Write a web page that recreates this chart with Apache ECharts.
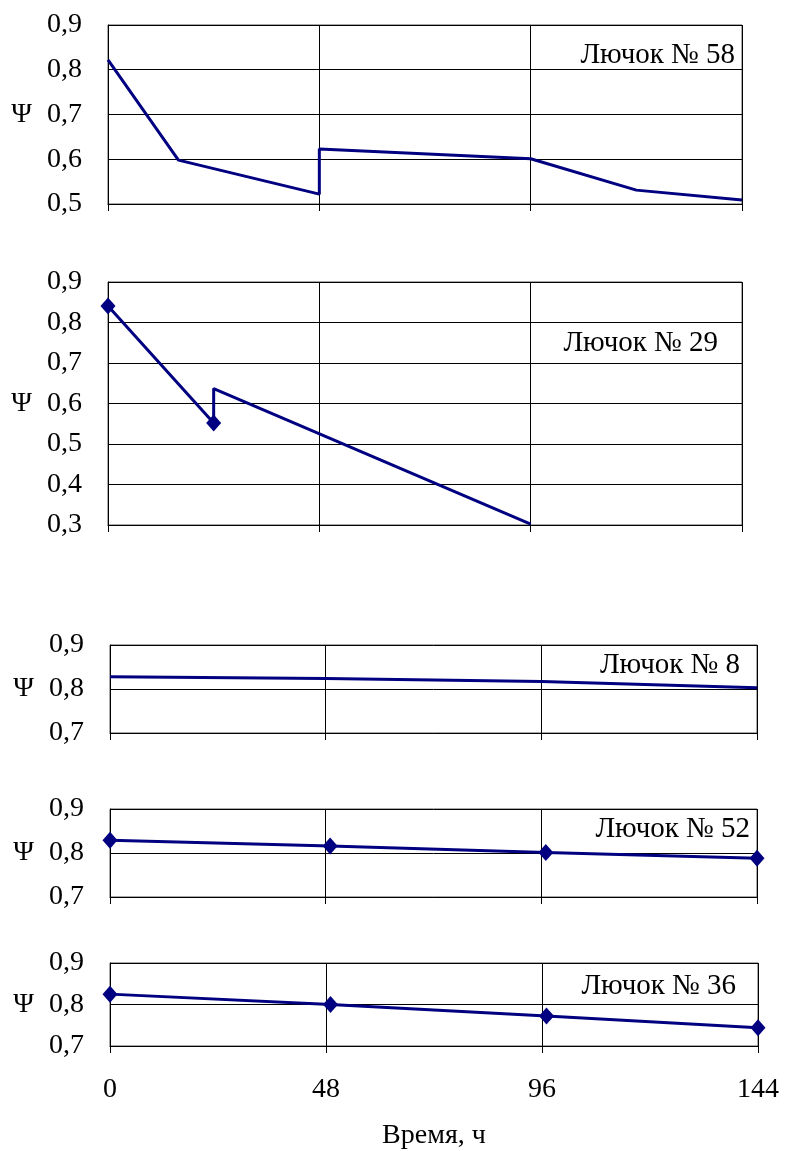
<!DOCTYPE html>
<html>
<head>
<meta charset="utf-8">
<script src="https://cdn.jsdelivr.net/npm/echarts@6/dist/echarts.min.js"></script>
<style>
html,body{margin:0;padding:0;background:#fff;}
#c{width:787px;height:1151px;}
</style>
</head>
<body>
<div id="c"></div>
<script>
// ---- data ----
const xTicks = [0, 48, 96, 144];
const hours58 = [0, 16, 48, 48, 96, 120, 144];
const psi58   = [0.822, 0.598, 0.522, 0.623, 0.601, 0.531, 0.509];
const hours29 = [0, 24, 24, 96];
const psi29   = [0.841, 0.552, 0.637, 0.302];
const marks29 = [true, true, false, false];
const hours8  = [0, 48, 96, 144];
const psi8    = [0.828, 0.824, 0.817, 0.803];
const hours52 = [0, 49, 97, 144];
const psi52   = [0.829, 0.816, 0.801, 0.788];
const hours36 = [0, 49, 97, 144];
const psi36   = [0.825, 0.800, 0.772, 0.744];
const labels  = ['Лючок № 58', 'Лючок № 29', 'Лючок № 8', 'Лючок № 52', 'Лючок № 36'];
const yMins   = [0.5, 0.3, 0.7, 0.7, 0.7];
const yMaxs   = [0.9, 0.9, 0.9, 0.9, 0.9];

// ---- layout ----
const FONT = '"Liberation Serif", "Times New Roman", serif';
const grids = [
  {left:108, top:25,  width:634, height:179},
  {left:108, top:282, width:634, height:243},
  {left:110, top:645, width:647, height:88},
  {left:110, top:809, width:647, height:88},
  {left:110, top:963, width:648, height:83}
];
const labelPos = [
  {x:735, y:55},
  {x:718, y:343},
  {x:740, y:665},
  {x:750, y:829},
  {x:736, y:986}
];
const LINE = '#000080';

const toPairs = (xs, ys) => xs.map((x, i) => [x, ys[i]]);
const fmt = v => v.toFixed(1).replace('.', ',');

const xAxes = grids.map((g, i) => ({
  type:'value', gridIndex:i, min:xTicks[0], max:xTicks[xTicks.length - 1], interval:xTicks[1] - xTicks[0],
  axisLine:{show:true, onZero:false, lineStyle:{color:'#000', width:1}},
  axisTick:{show:true, length:7, inside:false, lineStyle:{color:'#000'}},
  axisLabel:{show:i === 4, margin:30, fontFamily:FONT, fontSize:28, color:'#000'},
  splitLine:{show:true, lineStyle:{color:'#000', width:1}},
  name: i === 4 ? 'Время, ч' : '',
  nameLocation:'middle', nameGap:76,
  nameTextStyle:{fontFamily:FONT, fontSize:28, color:'#000'}
}));
const yAxes = grids.map((g, i) => ({
  type:'value', gridIndex:i, min:yMins[i], max:yMaxs[i], interval:0.1,
  axisLine:{show:true, lineStyle:{color:'#000', width:1}},
  axisTick:{show:true, inside:true, length:5, lineStyle:{color:'#000'}},
  axisLabel:{margin:26, formatter:fmt, fontFamily:FONT, fontSize:28, color:'#000'},
  splitLine:{show:true, lineStyle:{color:'#000', width:1}},
  name:'Ψ', nameLocation:'middle', nameRotate:0, nameGap:76,
  nameTextStyle:{fontFamily:FONT, fontSize:28, color:'#000'}
}));

const diamond = {symbol:'diamond', symbolSize:[15, 17]};
const series = [
  {data:toPairs(hours58, psi58), showSymbol:false},
  {data:toPairs(hours29, psi29).map((p, i) => marks29[i] ? {value:p, symbol:'diamond', symbolSize:[15,17]} : {value:p, symbol:'none'})},
  {data:toPairs(hours8, psi8), showSymbol:false},
  {data:toPairs(hours52, psi52), ...diamond},
  {data:toPairs(hours36, psi36), ...diamond}
].map((s, i) => Object.assign({
  type:'line', xAxisIndex:i, yAxisIndex:i,
  lineStyle:{color:LINE, width:3},
  itemStyle:{color:LINE},
  animation:false, silent:true
}, s));

const graphic = labels.map((t, i) => ({
  type:'text', x:labelPos[i].x, y:labelPos[i].y,
  style:{text:t, textAlign:'right', textVerticalAlign:'middle',
         font:'29px ' + FONT, fill:'#000'}
}));

const chart = echarts.init(document.getElementById('c'), null, {renderer:'canvas'});
chart.setOption({
  backgroundColor:'#fff',
  animation:false,
  grid: grids.map(g => Object.assign({show:true, borderColor:'#555', borderWidth:1, backgroundColor:'transparent'}, g)),
  xAxis:xAxes,
  yAxis:yAxes,
  series:series,
  graphic:graphic
});
</script>
</body>
</html>
